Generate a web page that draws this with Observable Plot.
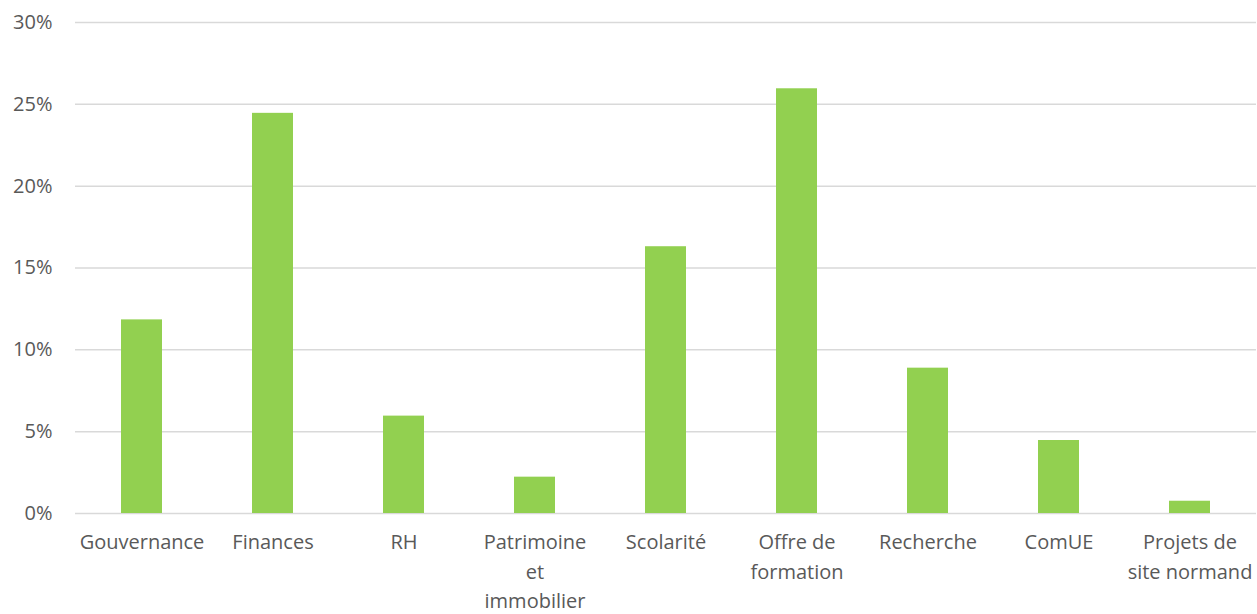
<!DOCTYPE html>
<html><head><meta charset="utf-8">
<script src="https://cdn.jsdelivr.net/npm/d3@7"></script>
<script src="https://cdn.jsdelivr.net/npm/@observablehq/plot@0.6"></script>
<style>
html,body{margin:0;padding:0;background:#fff;}
#chart svg{display:block;}
</style>
</head><body><div id="chart"></div>
<script>
const categories = ["Gouvernance","Finances","RH","Patrimoine et immobilier","Scolarité","Offre de formation","Recherche","ComUE","Projets de site normand"];
const tickLabels = ["Gouvernance","Finances","RH","Patrimoine\net\nimmobilier","Scolarité","Offre de\nformation","Recherche","ComUE","Projets de\nsite normand"];
const values = [0.1183,0.2445,0.0595,0.0222,0.1630,0.2595,0.0888,0.0446,0.0075];
const yTicks = [0,0.05,0.10,0.15,0.20,0.25,0.30];

const data = categories.map((c,i)=>({category:c, value:values[i]}));
const labelOf = new Map(categories.map((c,i)=>[c,tickLabels[i]]));

const chart = Plot.plot({
  width: 1257,
  height: 614,
  marginLeft: 75,
  marginRight: 1,
  marginTop: 22,
  marginBottom: 101,
  style: {fontFamily: "'Open Sans', sans-serif", fontSize: "20px", color: "#595959", background: "#fff"},
  x: {domain: categories, paddingInner: 0.687, paddingOuter: 0.3435, label: null},
  y: {domain: [0,0.3], label: null},
  marks: [
    Plot.gridY(yTicks, {stroke: "#d9d9d9", strokeOpacity: 1, strokeWidth: 1.5}),
    Plot.barY(data, {x: "category", y: "value", fill: "#92d050"}),
    Plot.axisY(yTicks, {tickSize: 0, tickPadding: 23, tickFormat: d3.format(".0%"), fontSize: 20, fill: "#595959"}),
    Plot.axisX({tickSize: 0, tickPadding: 15, tickFormat: d => labelOf.get(d), fontSize: 20, lineHeight: 1.47, fill: "#595959"})
  ]
});
document.getElementById("chart").appendChild(chart);
</script>
</body></html>
